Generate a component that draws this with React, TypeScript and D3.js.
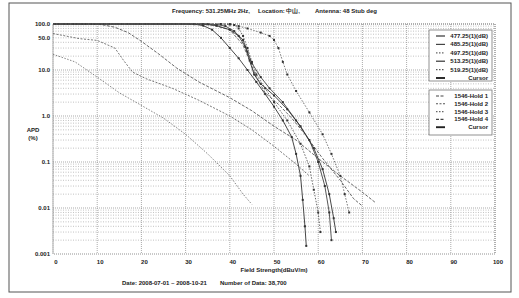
import React from 'react';
import * as d3 from 'd3';

// ---- data ----
const xTickValues = [0, 10, 20, 30, 40, 50, 60, 70, 80, 90, 100];
const yTickValues = [100, 50, 10, 1, 0.1, 0.01, 0.001];
const yTickLabels = ['100.0', '50.0', '10.0', '1.0', '0.1', '0.01', '0.001'];

const m47725: [number, number][] = [[0,100],[30,100],[32,99],[34,92],[36,75],[38,50],[40,30],[42,18],[44,10],[46,5.5],[48,3],[50,1.6],[52,0.8],[54,0.35],[55,0.15],[56,0.05],[56.5,0.015],[57,0.004],[57.3,0.0015]];
const m48525: [number, number][] = [[0,100],[35,100],[37,97],[39,90],[41,70],[43,45],[44,25],[45,14],[47,7],[49,4],[52,2],[55,0.8],[58,0.3],[60,0.1],[61.5,0.03],[62.5,0.008],[63,0.002]];
const m49725: [number, number][] = [[0,100],[38,100],[40,97],[42,90],[44,80],[47,65],[49,55],[50,45],[51,30],[52,15],[53,8],[55,3.5],[58,1.2],[61,0.4],[63,0.15],[65,0.05],[66,0.02],[67,0.008]];
const m51325: [number, number][] = [[0,100],[34,100],[37,92],[40,75],[42,55],[43.5,32],[44.5,16],[45.5,8],[47,5],[50,2.8],[53,1.4],[56,0.6],[59,0.2],[61,0.07],[62.5,0.02],[63.5,0.006],[64,0.003]];
const m51925: [number, number][] = [[0,100],[40,100],[41,95],[42,80],[43,55],[44,30],[45,15],[46,8],[48,4],[50,2],[53,0.8],[56,0.25],[58,0.08],[59,0.025],[60,0.008],[60.5,0.003]];

const hold1: [number, number][] = [[0,100],[8,99.5],[11,97],[14,85],[17,65],[20,42],[24,22],[28,11],[33,5.5],[40,2.5],[45,1.3],[50,0.6],[55,0.3],[60,0.12],[65,0.05],[70,0.022],[73,0.013]];
const hold2: [number, number][] = [[0,62],[6,48],[10,44],[14,30],[16,16],[18,9],[21,6.5],[27,4],[33,2.2],[40,1],[45,0.5],[50,0.22],[55,0.09],[58,0.05]];
const hold3: [number, number][] = [[0,22],[5,15],[10,7],[15,3.2],[20,1.7],[25,0.9],[30,0.4],[35,0.15],[40,0.05],[43,0.02],[45,0.012]];
const hold4: [number, number][] = [[0,100],[30,100],[36,95],[40,75],[43,35],[45,12],[46,7],[48,3.2],[51,1.8],[54,0.9],[57,0.4],[61,0.12],[65,0.04],[68,0.016],[70,0.011]];

const legend1Labels = ['477.25(1)(dB)', '485.25(1)(dB)', '497.25(1)(dB)', '513.25(1)(dB)', '519.25(1)(dB)', 'Cursor'];
const legend2Labels = ['1546-Hold 1', '1546-Hold 2', '1546-Hold 3', '1546-Hold 4', 'Cursor'];
const titleParts = ['Frequency: 531.25MHz 2Hz,', 'Location: 中山,', 'Antenna: 48 Stub deg'];

const measuredSeries = [m47725, m48525, m49725, m51325, m51925];
const holdSeries = [hold1, hold2, hold3, hold4];

const measuredStyles = [
  { dash: 'none', color: '#333', w: 0.9 },
  { dash: 'none', color: '#444', w: 0.9 },
  { dash: '1.5,1.5', color: '#666', w: 0.9 },
  { dash: 'none', color: '#333', w: 0.9 },
  { dash: '1.5,1.5', color: '#555', w: 0.9 },
];
const holdStyles = [
  { dash: '3,1.5', color: '#444', w: 0.8 },
  { dash: '2,1.5', color: '#555', w: 0.8 },
  { dash: '1.5,1.5', color: '#666', w: 0.8 },
  { dash: '3,1.5', color: '#444', w: 0.8 },
];

const W = 519, H = 298;
const L = 53, R = 495, T = 24, B = 254;

export default function App() {
  const x = d3.scaleLinear().domain([0, 100]).range([L, R]);
  const y = d3.scaleLog().domain([0.001, 100]).range([B, T]);
  const line = d3.line<[number, number]>().x(d => x(d[0])).y(d => y(d[1]));

  const minor: number[] = [];
  for (let e = -3; e < 2; e++) for (let k = 2; k <= 9; k++) minor.push(k * Math.pow(10, e));

  const font = 'Arial, "Liberation Sans", sans-serif';
  const txt = { fontFamily: font, fontWeight: 700, fill: '#222' } as const;
  const titleX = [172, 258, 315];
  const titleLen = [78, 42, 62];

  return (
    <svg width={W} height={H} style={{ position: 'fixed', left: 0, top: 0, background: '#fff' }}>
      <rect x={9} y={3} width={502} height={289} fill="none" stroke="#555" strokeWidth={1} />
      {titleParts.map((t, i) => (
        <text key={'t' + i} x={titleX[i]} y={13} fontSize={6} textLength={titleLen[i]} lengthAdjust="spacingAndGlyphs" {...txt}>{t}</text>
      ))}
      {/* minor grid */}
      {minor.map((v, i) => (
        <line key={'m' + i} x1={L} x2={R} y1={y(v)} y2={y(v)} stroke="#999" strokeWidth={0.6} strokeDasharray="1,1.5" />
      ))}
      {[100, 10, 1, 0.1, 0.01].map((v, i) => (
        <line key={'M' + i} x1={L} x2={R} y1={y(v)} y2={y(v)} stroke="#888" strokeWidth={0.7} strokeDasharray="1,1" />
      ))}
      {xTickValues.map((v, i) => (
        <line key={'v' + i} x1={x(v)} x2={x(v)} y1={T} y2={B} stroke="#888" strokeWidth={0.7} strokeDasharray="1,1" />
      ))}
      <rect x={L} y={T} width={R - L} height={B - T} fill="none" stroke="#777" strokeWidth={0.8} strokeDasharray="1,1" />
      {/* series */}
      {holdSeries.map((s, i) => (
        <path key={'h' + i} d={line(s) || ''} fill="none" stroke={holdStyles[i].color} strokeWidth={holdStyles[i].w} strokeDasharray={holdStyles[i].dash} />
      ))}
      {measuredSeries.map((s, i) => (
        <g key={'s' + i}>
          <path d={line(s) || ''} fill="none" stroke={measuredStyles[i].color} strokeWidth={measuredStyles[i].w} strokeDasharray={measuredStyles[i].dash} />
          {s.filter(d => d[0] > 30).map((d, j) => (
            <rect key={j} x={x(d[0]) - 1} y={y(d[1]) - 1} width={2} height={2} fill="#333" />
          ))}
        </g>
      ))}
      {/* axes labels */}
      {yTickValues.map((v, i) => (
        <text key={'yl' + i} x={50} y={y(v) + 2} textAnchor="end" fontSize={6} {...txt}>{yTickLabels[i]}</text>
      ))}
      {xTickValues.map((v, i) => (
        <text key={'xl' + i} x={x(v) + 3} y={264} textAnchor="middle" fontSize={6} {...txt}>{v}</text>
      ))}
      <text x={33} y={132} textAnchor="middle" fontSize={6} {...txt}>APD</text>
      <text x={33} y={140} textAnchor="middle" fontSize={6} {...txt}>(%)</text>
      <text x={274} y={272} textAnchor="middle" fontSize={6} {...txt}>Field Strength(dBuV/m)</text>
      <text x={122} y={285} fontSize={6} {...txt}>Date: 2008-07-01 ~ 2008-10-21</text>
      <text x={220} y={285} fontSize={6} {...txt}>Number of Data: 38,700</text>
      {/* legends */}
      <rect x={429} y={30} width={63} height={51} fill="#fff" stroke="#777" strokeWidth={0.8} />
      {legend1Labels.map((lab, i) => {
        const yy = 36 + i * 8.4;
        const st = i < 5 ? measuredStyles[i] : { dash: 'none', color: '#222', w: 1.6 };
        return (
          <g key={'l1' + i}>
            <line x1={436} x2={445} y1={yy} y2={yy} stroke={st.color} strokeWidth={st.w + 0.3} strokeDasharray={st.dash} />
            <text x={488} y={yy + 2} textAnchor="end" fontSize={6} {...txt}>{lab}</text>
          </g>
        );
      })}
      <rect x={429} y={90} width={63} height={45} fill="#fff" stroke="#777" strokeWidth={0.8} />
      {legend2Labels.map((lab, i) => {
        const yy = 96 + i * 7.8;
        const st = i < 4 ? holdStyles[i] : { dash: 'none', color: '#222', w: 1.6 };
        return (
          <g key={'l2' + i}>
            <line x1={436} x2={445} y1={yy} y2={yy} stroke={st.color} strokeWidth={st.w + 0.3} strokeDasharray={st.dash} />
            <text x={488} y={yy + 2} textAnchor="end" fontSize={6} {...txt}>{lab}</text>
          </g>
        );
      })}
    </svg>
  );
}
